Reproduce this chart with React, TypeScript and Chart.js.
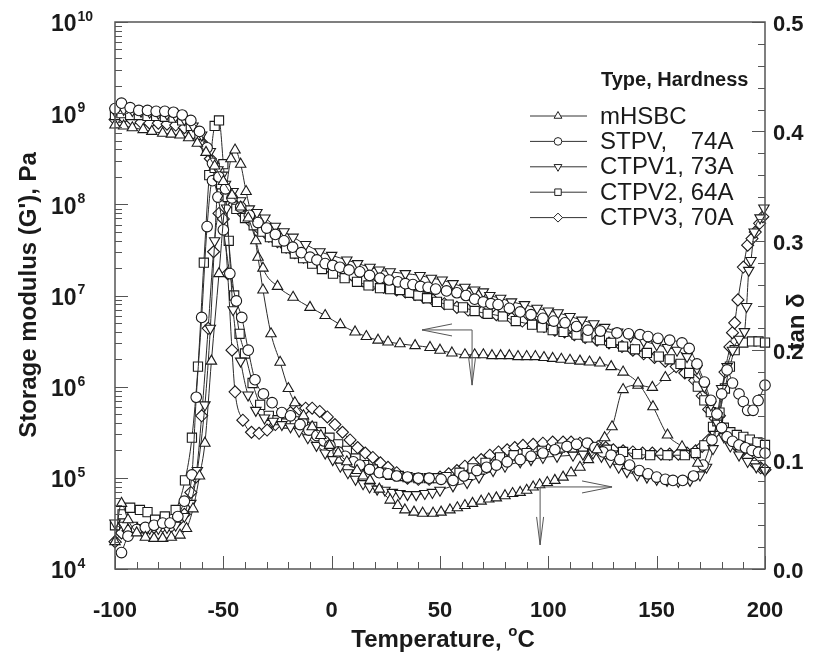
import React, { useEffect, useRef } from 'react';
import { Chart, registerables } from 'chart.js';

Chart.register(...registerables);

// ---------------- DATA ----------------
// Temperature (°C) vs log10 of storage modulus G' (Pa)
const mHSBC_log10G: [number, number][] = [[-100,8.87],[-96,8.86],[-92,8.84],[-87,8.82],[-83,8.80],[-78,8.78],[-74,8.77],[-70,8.76],[-66,8.73],[-62,8.67],[-58,8.57],[-54,8.42],[-50,8.25],[-46,8.10],[-42,7.97],[-38.5,7.85],[-35,7.60],[-31.7,7.30],[-25,7.10],[-17.8,6.98],[-10,6.87],[-3,6.78],[4,6.68],[10.8,6.60],[16,6.55],[21.4,6.51],[26,6.49],[31.5,6.47],[38.5,6.45],[45.4,6.43],[50,6.40],[55.5,6.37],[61.5,6.35],[66,6.35],[70,6.35],[74,6.34],[78,6.34],[82,6.34],[86,6.33],[90,6.33],[94,6.33],[98,6.32],[102,6.31],[106,6.30],[110,6.29],[114.6,6.28],[119,6.27],[123.8,6.26],[129,6.22],[134.5,6.16],[141.4,6.04],[148.3,5.78],[155,5.47],[161.7,5.34],[169,5.16]];
const STPV_log10G: [number, number][] = [[-100,9.05],[-97,9.11],[-93,9.06],[-89,9.03],[-85,9.03],[-81,9.02],[-77,9.02],[-73,9.01],[-69,8.98],[-65,8.92],[-61,8.80],[-57.5,8.62],[-55,8.45],[-52,8.30],[-49,8.17],[-46,8.07],[-42,7.97],[-38,7.88],[-34,7.80],[-30,7.74],[-26,7.67],[-22,7.60],[-18,7.53],[-14,7.47],[-10,7.42],[-6.8,7.39],[-3,7.35],[0.5,7.33],[3.8,7.31],[8,7.28],[13,7.26],[17.5,7.22],[22.3,7.19],[26.5,7.17],[30.6,7.15],[34,7.13],[37.5,7.12],[41,7.10],[44.5,7.09],[48,7.07],[53,7.05],[57.8,7.03],[62,7.00],[66,6.96],[70,6.93],[73.5,6.91],[76.8,6.90],[82,6.86],[87,6.82],[92,6.79],[97.5,6.75],[102.5,6.72],[107.7,6.70],[113,6.66],[118.3,6.62],[124,6.61],[131.7,6.59],[137,6.58],[142.3,6.57],[146,6.55],[150.6,6.53],[156,6.51],[161.7,6.48],[165,6.42],[168.6,6.25],[172,6.05],[175,5.85],[177.8,5.70],[180,5.55],[182.5,5.45],[185,5.40],[188,5.36],[191,5.33],[194,5.30],[197,5.28],[200,5.27]];
const CTPV1_log10G: [number, number][] = [[-100,9.02],[-96,9.04],[-92,9.03],[-88,9.02],[-84,9.01],[-80,9.00],[-76,8.99],[-72,8.97],[-68,8.93],[-64,8.86],[-60,8.76],[-56,8.58],[-52.5,8.38],[-49,8.22],[-45.5,8.14],[-42,8.04],[-38,7.95],[-34.5,7.91],[-30.8,7.85],[-26,7.76],[-22,7.70],[-17.8,7.64],[-12,7.56],[-5.4,7.48],[0,7.44],[7,7.39],[12,7.35],[17.7,7.31],[22,7.28],[27,7.26],[34,7.24],[40.8,7.22],[46,7.19],[51,7.17],[56,7.13],[61.5,7.09],[66,7.06],[70,7.04],[73,7.00],[78,6.97],[83,6.93],[89,6.90],[94.8,6.86],[100,6.83],[104.5,6.81],[110,6.77],[115.5,6.73],[121,6.69],[126,6.65],[132,6.60],[138,6.55],[144,6.50],[150,6.46],[155,6.43],[159.4,6.40],[164,6.33],[168.6,6.20],[172,6.00],[175,5.80],[178,5.60],[181,5.45],[184,5.35],[188,5.25],[192,5.18],[196,5.12],[200,5.08]];
const CTPV2_log10G: [number, number][] = [[-100,8.98],[-97,9.00],[-93,8.98],[-89,8.98],[-85,8.97],[-81,8.97],[-77,8.96],[-73,8.95],[-69,8.92],[-65,8.86],[-61,8.76],[-57.5,8.60],[-54,8.40],[-51,8.22],[-48,8.08],[-44,7.95],[-40,7.85],[-36,7.77],[-32,7.70],[-28.5,7.64],[-25.3,7.59],[-21,7.52],[-17,7.46],[-13.2,7.41],[-9,7.35],[-4.5,7.29],[0.6,7.24],[6,7.19],[11.7,7.15],[17,7.11],[22.3,7.08],[27,7.07],[31.5,7.06],[36,7.03],[40,7.00],[44,6.97],[48.6,6.93],[54,6.90],[60.6,6.87],[66,6.83],[72,6.80],[79,6.77],[85,6.72],[92.5,6.68],[97,6.65],[102,6.62],[107,6.60],[113,6.57],[118,6.54],[123.8,6.51],[129,6.48],[134.5,6.44],[140,6.41],[145.5,6.37],[151,6.33],[156,6.30],[161,6.25],[165,6.15],[169,6.00],[172,5.85],[175,5.72],[178,5.62],[181,5.55],[184,5.50],[187,5.47],[190,5.45],[193,5.42],[196.5,5.39],[200,5.36]];
const CTPV3_log10G: [number, number][] = [[-100,8.93],[-96,8.95],[-92,8.92],[-88,8.90],[-84,8.89],[-80,8.89],[-76,8.88],[-72,8.87],[-68,8.84],[-64,8.78],[-60,8.68],[-56,8.50],[-52,8.28],[-48.5,8.12],[-45,8.00],[-41,7.90],[-37,7.80],[-33,7.72],[-29,7.65],[-25,7.59],[-21,7.53],[-17,7.47],[-13,7.42],[-9,7.37],[-5,7.34],[-2,7.32],[2,7.31],[6,7.27],[10,7.21],[14.5,7.16],[19,7.12],[24,7.09],[30,7.06],[34,7.04],[38.5,7.01],[42.5,6.98],[46.8,6.95],[52,6.91],[57.8,6.87],[63,6.84],[69.4,6.82],[76,6.79],[83,6.75],[88,6.72],[93,6.70],[98,6.66],[103,6.62],[107.5,6.60],[112,6.57],[117,6.54],[122.5,6.51],[128,6.48],[134,6.44],[139,6.40],[144,6.36],[149,6.32],[154,6.28],[159,6.22],[163,6.15],[167.5,6.07],[171,5.90],[174,5.75],[177,5.65],[180,5.55],[183,5.45],[186,5.37],[189,5.30],[192,5.22],[195,5.16],[198,5.11],[200,5.09]];

// Temperature (°C) vs tan δ
const mHSBC_tan: [number, number][] = [[-100,0.025],[-97,0.06],[-94,0.045],[-90,0.033],[-86,0.029],[-82,0.028],[-78,0.028],[-74,0.029],[-70,0.031],[-67,0.037],[-64,0.055],[-61,0.085],[-58.5,0.115],[-55.5,0.19],[-52,0.27],[-49,0.34],[-46.5,0.375],[-44.6,0.383],[-42,0.37],[-39.5,0.345],[-36.8,0.32],[-34,0.285],[-31.7,0.255],[-28,0.215],[-23.8,0.189],[-20,0.165],[-17,0.152],[-13,0.14],[-9,0.13],[-5,0.122],[-1,0.113],[3,0.106],[7,0.098],[11.7,0.090],[14.5,0.085],[17.7,0.081],[22,0.073],[27,0.063],[30.5,0.058],[33.8,0.054],[38,0.052],[42,0.051],[46.8,0.051],[50.5,0.052],[54.6,0.054],[58,0.056],[61.5,0.058],[65,0.060],[69,0.062],[72.5,0.064],[76,0.065],[80,0.067],[83.5,0.069],[87,0.070],[90,0.072],[93,0.075],[96,0.077],[99.5,0.079],[103,0.081],[106.8,0.084],[110.5,0.088],[114.6,0.093],[118.5,0.100],[122.5,0.109],[126,0.120],[129.4,0.130],[134.5,0.164],[141.4,0.168],[148,0.166],[154,0.175],[160.8,0.185]];
const STPV_tan: [number, number][] = [[-97,0.015],[-94,0.030],[-90,0.036],[-86,0.038],[-82,0.040],[-78,0.042],[-74.6,0.042],[-71,0.048],[-68,0.062],[-64.5,0.086],[-62.5,0.157],[-60,0.23],[-57.5,0.313],[-55,0.355],[-52.5,0.34],[-50,0.31],[-47,0.27],[-44,0.245],[-41.5,0.230],[-38.5,0.20],[-35.4,0.173],[-31.5,0.160],[-27.5,0.152],[-23,0.143],[-19,0.140],[-14.6,0.132],[-10.5,0.127],[-6.8,0.122],[-3.5,0.117],[-0.8,0.113],[3,0.107],[6.3,0.103],[10,0.098],[13,0.095],[17.5,0.091],[22,0.088],[26,0.087],[30,0.085],[35,0.084],[40,0.083],[45,0.083],[50.5,0.082],[56,0.081],[61,0.085],[67,0.090],[71.5,0.093],[76,0.095],[81,0.098],[87,0.100],[92,0.103],[97.5,0.106],[103,0.109],[108.6,0.112],[113,0.114],[118,0.115],[121.5,0.111],[125.2,0.107],[129,0.104],[133,0.100],[137.5,0.095],[142,0.090],[146,0.087],[150,0.084],[154,0.082],[157.5,0.081],[162,0.081],[167,0.085],[171.4,0.095],[175.5,0.118],[178,0.136],[180,0.160],[182.5,0.182],[185,0.170],[188,0.160],[190,0.153],[192,0.145],[194.5,0.145],[196.8,0.154],[200,0.168]];
const CTPV1_tan: [number, number][] = [[-100,0.042],[-96,0.040],[-92,0.040],[-88,0.038],[-84,0.037],[-80,0.037],[-76,0.038],[-72,0.040],[-68,0.048],[-65,0.060],[-62,0.090],[-58.5,0.150],[-56,0.22],[-54,0.30],[-52.3,0.355],[-50.5,0.36],[-48.5,0.33],[-45.5,0.237],[-42,0.19],[-38.6,0.159],[-35,0.145],[-31,0.138],[-27,0.135],[-23,0.132],[-19,0.130],[-15,0.126],[-11,0.120],[-7,0.113],[-3,0.106],[0.5,0.100],[4,0.094],[7.5,0.088],[11,0.082],[14.5,0.078],[17.5,0.075],[21,0.073],[24.6,0.072],[28,0.070],[31.5,0.069],[35,0.068],[39,0.068],[43,0.069],[46.5,0.070],[50,0.072],[56,0.076],[62.5,0.079],[68,0.084],[74.5,0.090],[80,0.094],[87,0.098],[92,0.100],[97.5,0.102],[104,0.103],[111.4,0.104],[116,0.105],[120.6,0.106],[124.5,0.103],[128.5,0.098],[132.5,0.093],[136.3,0.089],[141,0.086],[145.5,0.084],[150,0.082],[154.8,0.081],[160,0.080],[165.4,0.081],[170,0.086],[173,0.093],[176,0.110],[178,0.140],[180,0.165],[182.5,0.185],[185,0.200],[188,0.210],[190.5,0.217],[191.5,0.240],[192.5,0.273],[193.5,0.282],[195,0.308],[197.7,0.321],[199.5,0.330]];
const CTPV2_tan: [number, number][] = [[-100,0.040],[-96.5,0.050],[-93,0.056],[-88.5,0.054],[-85,0.052],[-81.5,0.045],[-77,0.048],[-72,0.054],[-67.7,0.081],[-64.5,0.120],[-61.7,0.185],[-59,0.280],[-56.5,0.360],[-54,0.405],[-52,0.410],[-50,0.370],[-47.5,0.300],[-45,0.250],[-42.5,0.215],[-40,0.197],[-36.5,0.170],[-33,0.150],[-29,0.140],[-25,0.136],[-21,0.133],[-17,0.135],[-13,0.134],[-9,0.130],[-5,0.125],[-1,0.120],[3,0.114],[7,0.108],[11,0.101],[15,0.095],[19,0.091],[23,0.088],[27,0.086],[31,0.085],[35,0.084],[40,0.083],[45,0.083],[49,0.083],[53,0.084],[59,0.088],[65,0.092],[71,0.097],[77.7,0.102],[84,0.104],[90,0.106],[97,0.108],[105.4,0.111],[111,0.111],[116,0.111],[121,0.110],[127,0.109],[134.5,0.107],[141,0.105],[147,0.104],[155,0.104],[163,0.104],[168,0.106],[172,0.113],[176,0.130],[179,0.143],[181.5,0.165],[183.8,0.185],[186,0.200],[190,0.207],[194,0.208],[197,0.208],[200,0.207]];
const CTPV3_tan: [number, number][] = [[-100,0.025],[-97,0.033],[-94,0.035],[-90,0.037],[-86,0.036],[-82,0.038],[-78,0.039],[-74,0.039],[-71,0.044],[-68,0.050],[-65,0.070],[-62.7,0.084],[-60,0.140],[-57,0.220],[-54.5,0.290],[-52,0.325],[-50,0.320],[-48,0.270],[-46,0.200],[-44.6,0.162],[-41,0.136],[-37,0.125],[-33.5,0.124],[-29.8,0.127],[-26,0.132],[-22.5,0.138],[-19,0.143],[-15,0.146],[-12,0.147],[-9,0.147],[-5.5,0.144],[-2,0.139],[1.5,0.132],[5,0.125],[8.5,0.118],[12,0.111],[15.5,0.106],[19,0.102],[22.5,0.097],[26,0.093],[30,0.088],[35,0.083],[40,0.082],[45,0.082],[50,0.084],[54,0.087],[57.8,0.090],[61.5,0.094],[65.4,0.097],[69,0.100],[73,0.104],[77,0.107],[81,0.109],[84.5,0.111],[88.3,0.113],[93,0.114],[97.5,0.115],[102,0.116],[106.8,0.116],[110.5,0.116],[114.6,0.115],[119,0.114],[123,0.112],[126.5,0.111],[130,0.109],[134.5,0.108],[139,0.107],[143.5,0.106],[148,0.106],[152,0.105],[156,0.105],[160,0.105],[164,0.106],[168,0.108],[171,0.112],[174,0.118],[177,0.125],[179,0.140],[181.5,0.180],[183.8,0.203],[185,0.216],[186,0.225],[187.5,0.246],[190,0.276],[192,0.296],[194,0.302],[195.5,0.308],[197.5,0.316],[199,0.322]];

const seriesNames = ['mHSBC', 'STPV,   74A', 'CTPV1, 73A', 'CTPV2, 64A', 'CTPV3, 70A'];
const legendHeader = 'Type, Hardness';
const xTickLabels = [-100, -50, 0, 50, 100, 150, 200];
const yDecadeExponents = [4, 5, 6, 7, 8, 9, 10];
const y2TickLabels = ['0.0', '0.1', '0.2', '0.3', '0.4', '0.5'];
const xTitleMain = 'Temperature, ';
const xTitleSup = 'o';
const xTitleEnd = 'C';
const yTitle = "Storage modulus (G'), Pa";
const y2Title = 'tan δ';
// arrow annotations: [corner T, corner value, horizontal tip T, vertical tip value]
const gArrow = [64.8, 4.19e6, 41.7, 1.04e6];
const tanArrow = [96.2, 0.075, 129.4, 0.022];

// ---------------- STYLE ----------------
const FONT = '"Liberation Sans", Arial, Helvetica, sans-serif';
const INK = '#1a1a1a';
const markerStyles = ['triUp', 'circle', 'triDown', 'square', 'diamond'];

function markerProps(i: number) {
  switch (i) {
    case 0: return { pointStyle: 'triangle', pointRadius: 6, pointRotation: 0 };
    case 1: return { pointStyle: 'circle', pointRadius: 5.3, pointRotation: 0 };
    case 2: return { pointStyle: 'triangle', pointRadius: 6, pointRotation: 180 };
    case 3: return { pointStyle: 'rect', pointRadius: 6.5, pointRotation: 0 };
    default: return { pointStyle: 'rectRot', pointRadius: 6, pointRotation: 0 };
  }
}

function drawMarker(ctx: CanvasRenderingContext2D, style: string, x: number, y: number, r: number) {
  ctx.beginPath();
  if (style === 'triUp') {
    ctx.moveTo(x, y - r); ctx.lineTo(x + r * 0.866, y + r * 0.5); ctx.lineTo(x - r * 0.866, y + r * 0.5); ctx.closePath();
  } else if (style === 'triDown') {
    ctx.moveTo(x, y + r); ctx.lineTo(x + r * 0.866, y - r * 0.5); ctx.lineTo(x - r * 0.866, y - r * 0.5); ctx.closePath();
  } else if (style === 'circle') {
    ctx.arc(x, y, r * 0.85, 0, Math.PI * 2);
  } else if (style === 'square') {
    const h = r * 0.72; ctx.rect(x - h, y - h, 2 * h, 2 * h);
  } else {
    ctx.moveTo(x, y - r); ctx.lineTo(x + r, y); ctx.lineTo(x, y + r); ctx.lineTo(x - r, y); ctx.closePath();
  }
  ctx.fillStyle = '#fff';
  ctx.fill();
  ctx.stroke();
}

function arrowHead(ctx: CanvasRenderingContext2D, tx: number, ty: number, dx: number, dy: number, len: number, half: number) {
  const bx = tx - dx * len, by = ty - dy * len;
  const px = -dy, py = dx;
  ctx.beginPath();
  ctx.moveTo(bx + px * half, by + py * half);
  ctx.lineTo(tx, ty);
  ctx.lineTo(bx - px * half, by - py * half);
  ctx.stroke();
}

const decorPlugin = {
  id: 'decor',
  afterDraw(chart: any) {
    const ctx: CanvasRenderingContext2D = chart.ctx;
    const { left, right, top, bottom } = chart.chartArea;
    const xs = chart.scales.x, ys = chart.scales.y, y2 = chart.scales.y2;
    ctx.save();

    // frame
    ctx.strokeStyle = '#555';
    ctx.lineWidth = 1.5;
    ctx.strokeRect(left, top, right - left, bottom - top);

    // ticks
    ctx.lineWidth = 1;
    ctx.strokeStyle = '#555';
    ctx.beginPath();
    for (let t = -100; t <= 200; t += 10) {
      const px = Math.round(xs.getPixelForValue(t)) + 0.5;
      const len = t % 50 === 0 ? 13 : 7;
      ctx.moveTo(px, bottom); ctx.lineTo(px, bottom - len);
    }
    for (let e = 4; e <= 10; e++) {
      for (let m = 1; m <= 9; m++) {
        if (e === 10 && m > 1) break;
        const py = Math.round(ys.getPixelForValue(m * Math.pow(10, e))) + 0.5;
        const len = m === 1 ? 13 : 7;
        ctx.moveTo(left, py); ctx.lineTo(left + len, py);
      }
    }
    for (let k = 0; k <= 25; k++) {
      const v = k * 0.02;
      const py = Math.round(y2.getPixelForValue(v)) + 0.5;
      const len = k % 5 === 0 ? 13 : 7;
      ctx.moveTo(right, py); ctx.lineTo(right - len, py);
    }
    ctx.stroke();

    // tick labels
    ctx.fillStyle = INK;
    ctx.font = `bold 22px ${FONT}`;
    ctx.textAlign = 'center';
    ctx.textBaseline = 'middle';
    xTickLabels.forEach((t) => ctx.fillText(String(t), xs.getPixelForValue(t), 611));
    ctx.textAlign = 'left';
    y2TickLabels.forEach((s) => ctx.fillText(s, 773, y2.getPixelForValue(parseFloat(s)) + 3));
    yDecadeExponents.forEach((e) => {
      const py = ys.getPixelForValue(Math.pow(10, e)) + 3;
      ctx.font = `bold 23px ${FONT}`;
      ctx.textAlign = 'left';
      ctx.fillText('10', 51, py);
      const w = ctx.measureText('10').width;
      ctx.font = `bold 14px ${FONT}`;
      ctx.fillText(String(e), 51 + w + 1, py - 8);
    });

    // x title
    ctx.font = `bold 24px ${FONT}`;
    const w1 = ctx.measureText(xTitleMain).width;
    const w3 = ctx.measureText(xTitleEnd).width;
    ctx.font = `bold 15px ${FONT}`;
    const w2 = ctx.measureText(xTitleSup).width;
    const total = w1 + w2 + w3;
    let cx = 443 - total / 2;
    ctx.textAlign = 'left';
    ctx.textBaseline = 'alphabetic';
    ctx.font = `bold 24px ${FONT}`;
    ctx.fillText(xTitleMain, cx, 647);
    ctx.font = `bold 15px ${FONT}`;
    ctx.fillText(xTitleSup, cx + w1, 636);
    ctx.font = `bold 24px ${FONT}`;
    ctx.fillText(xTitleEnd, cx + w1 + w2, 647);

    // y titles
    ctx.textAlign = 'center';
    ctx.textBaseline = 'middle';
    ctx.save();
    ctx.translate(29, 295);
    ctx.rotate(-Math.PI / 2);
    ctx.fillText(yTitle, 0, 0);
    ctx.restore();
    ctx.save();
    ctx.translate(797, 322);
    ctx.rotate(-Math.PI / 2);
    ctx.fillText(y2Title, 0, 0);
    ctx.restore();

    // legend
    ctx.font = `bold 20px ${FONT}`;
    ctx.textAlign = 'left';
    ctx.fillText(legendHeader, 601, 80);
    ctx.font = `24px ${FONT}`;
    const hardX = 600 + ctx.measureText('CTPV1, ').width;
    seriesNames.forEach((name, i) => {
      const ry = 116 + i * 25.4;
      ctx.strokeStyle = '#333';
      ctx.lineWidth = 1;
      ctx.beginPath(); ctx.moveTo(530, ry); ctx.lineTo(587, ry); ctx.stroke();
      ctx.strokeStyle = '#222';
      drawMarker(ctx, markerStyles[i], 558, ry, 4.5);
      ctx.fillStyle = INK;
      const parts = name.split(/\s{2,}/);
      ctx.fillText(parts[0], 600, ry + 1);
      if (parts.length > 1) ctx.fillText(parts[1], hardX, ry + 1);
    });

    // arrows
    ctx.strokeStyle = '#555';
    ctx.lineWidth = 1;
    const drawArrow = (a: number[], sc: any) => {
      const cxp = xs.getPixelForValue(a[0]);
      const cyp = sc.getPixelForValue(a[1]);
      const hx = xs.getPixelForValue(a[2]);
      const vy = sc.getPixelForValue(a[3]);
      ctx.beginPath();
      ctx.moveTo(hx, cyp); ctx.lineTo(cxp, cyp); ctx.lineTo(cxp, vy);
      ctx.stroke();
      const dir = hx < cxp ? -1 : 1;
      arrowHead(ctx, hx, cyp, dir, 0, 30, 6);
      arrowHead(ctx, cxp, vy, 0, 1, 28, 3.5);
    };
    drawArrow(gArrow, ys);
    drawArrow(tanArrow, y2);

    ctx.restore();
  },
};

export default function App() {
  const ref = useRef<HTMLCanvasElement>(null);
  useEffect(() => {
    const gSeries = [mHSBC_log10G, STPV_log10G, CTPV1_log10G, CTPV2_log10G, CTPV3_log10G];
    const tSeries = [mHSBC_tan, STPV_tan, CTPV1_tan, CTPV2_tan, CTPV3_tan];
    const base = {
      borderColor: '#2a2a2a',
      borderWidth: 1,
      pointBackgroundColor: '#ffffff',
      pointBorderColor: '#1a1a1a',
      pointBorderWidth: 1.1,
      fill: false,
      cubicInterpolationMode: 'monotone' as const,
      clip: 12,
    };
    const datasets: any[] = [];
    gSeries.forEach((s, i) => {
      datasets.push({
        ...base, ...markerProps(i),
        label: seriesNames[i] + " G'",
        yAxisID: 'y',
        data: s.map(([t, lg]) => ({ x: t, y: Math.pow(10, lg) })),
      });
    });
    tSeries.forEach((s, i) => {
      datasets.push({
        ...base, ...markerProps(i),
        label: seriesNames[i] + ' tan δ',
        yAxisID: 'y2',
        data: s.map(([t, v]) => ({ x: t, y: v })),
      });
    });
    const chart = new Chart(ref.current!, {
      type: 'line',
      data: { datasets },
      options: {
        responsive: false,
        animation: false,
        devicePixelRatio: 1,
        events: [],
        layout: { padding: { left: 115, right: 48, top: 22, bottom: 84 } },
        scales: {
          x: { type: 'linear', min: -100, max: 200, display: false },
          y: { type: 'logarithmic', min: 1e4, max: 1e10, display: false },
          y2: { type: 'linear', min: 0, max: 0.5, display: false },
        },
        plugins: { legend: { display: false }, tooltip: { enabled: false } },
      },
      plugins: [decorPlugin],
    } as any);
    return () => chart.destroy();
  }, []);
  return (
    <div style={{ position: 'absolute', left: 0, top: 0, width: 813, height: 653, background: '#fff' }}>
      <canvas ref={ref} width={813} height={653} style={{ width: 813, height: 653, display: 'block' }} />
    </div>
  );
}
